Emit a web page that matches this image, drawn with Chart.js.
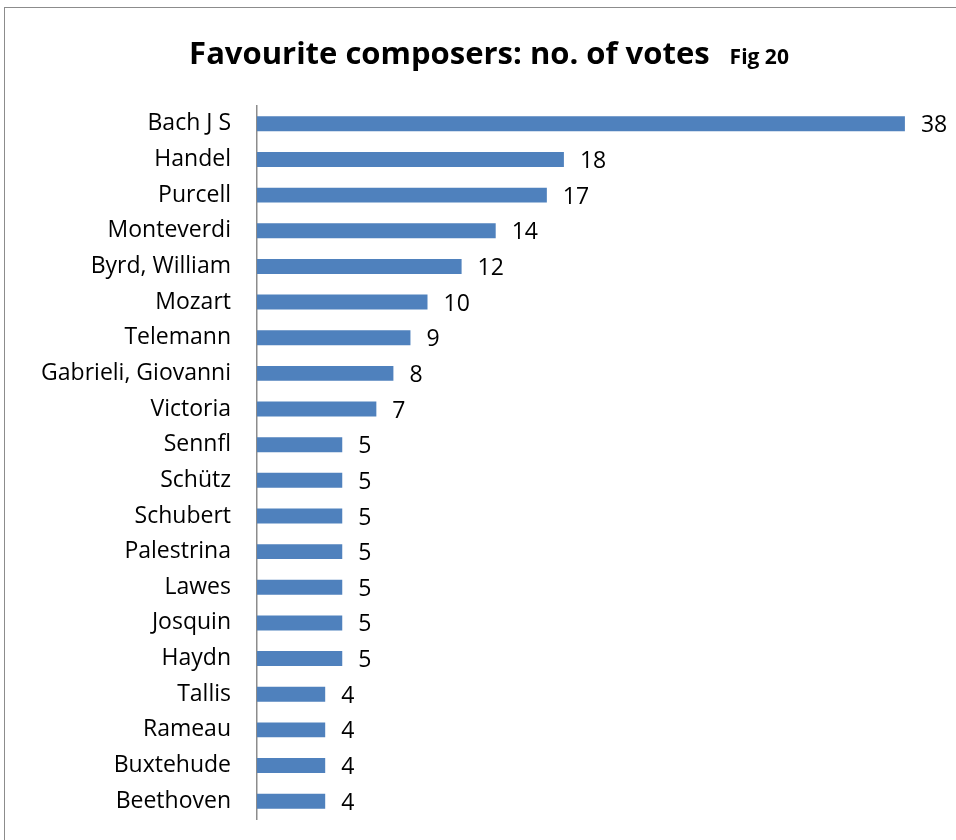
<!DOCTYPE html>
<html>
<head>
<meta charset="utf-8">
<script src="https://cdn.jsdelivr.net/npm/chart.js@4"></script>
<style>
    html, body { margin: 0; padding: 0; background: #fff; overflow: hidden; }
    #wrap { position: relative; width: 956px; height: 840px; }
    #frame {
        position: absolute; left: 4px; top: 7px;
        width: 1000px; height: 900px;
        border: 1.5px solid #8c8c8c; box-sizing: border-box;
    }
    canvas { position: absolute; left: 0; top: 0; }
</style>
</head>
<body>
<div id="wrap">
    <div id="frame"></div>
    <canvas id="chart" width="956" height="840"></canvas>
</div>
<script>
const composers = [
    "Bach J S", "Handel", "Purcell", "Monteverdi", "Byrd, William",
    "Mozart", "Telemann", "Gabrieli, Giovanni", "Victoria", "Sennfl",
    "Schütz", "Schubert", "Palestrina", "Lawes", "Josquin",
    "Haydn", "Tallis", "Rameau", "Buxtehude", "Beethoven"
];
const votes = [38, 18, 17, 14, 12, 10, 9, 8, 7, 5, 5, 5, 5, 5, 5, 5, 4, 4, 4, 4];
const titleText = "Favourite composers: no. of votes";
const figText = "Fig 20";

const FONT = "'Open Sans', sans-serif";

// title drawn by hand: the "Fig 20" part is smaller than the rest
const titlePlugin = {
    id: "twoPartTitle",
    afterDraw: chart => {
        const ctx = chart.ctx;
        ctx.save();
        ctx.fillStyle = "#000";
        ctx.textBaseline = "alphabetic";
        ctx.font = "bold 31px " + FONT;
        const w1 = ctx.measureText(titleText).width;
        ctx.font = "bold 21px " + FONT;
        const w2 = ctx.measureText(figText).width;
        const gap = 20;
        const start = 489 - (w1 + gap + w2) / 2;
        ctx.font = "bold 31px " + FONT;
        ctx.fillText(titleText, start, 64);
        ctx.font = "bold 21px " + FONT;
        ctx.fillText(figText, start + w1 + gap, 64);
        ctx.restore();
    }
};

const valueLabels = {
    id: "valueLabels",
    afterDatasetsDraw: chart => {
        const ctx = chart.ctx;
        const meta = chart.getDatasetMeta(0);
        ctx.save();
        ctx.font = "23px " + FONT;
        ctx.fillStyle = "#000";
        ctx.textAlign = "left";
        ctx.textBaseline = "middle";
        meta.data.forEach((bar, i) => {
            ctx.fillText(String(votes[i]), bar.x + 16, bar.y + 2);
        });
        ctx.restore();
    }
};

new Chart(document.getElementById("chart"), {
    type: "bar",
    data: {
        labels: composers,
        datasets: [{
            data: votes,
            backgroundColor: "#4F81BD",
            borderWidth: 0,
            barPercentage: 0.42,
            categoryPercentage: 1
        }]
    },
    options: {
        indexAxis: "y",
        responsive: false,
        animation: false,
        layout: {
            padding: { top: 106, bottom: 21, right: 17, left: 0 }
        },
        plugins: {
            legend: { display: false },
            title: { display: false },
            tooltip: { enabled: false }
        },
        scales: {
            x: {
                display: false,
                min: 0,
                max: 40
            },
            y: {
                afterFit: scale => {
                    scale.width = 257;
                    scale.paddingTop = 0;
                    scale.paddingBottom = 0;
                },
                grid: { drawOnChartArea: false, drawTicks: false },
                border: { display: true, color: "#8c8c8c", width: 1.5 },
                ticks: {
                    color: "#000",
                    padding: 26,
                    font: { family: FONT, size: 23 }
                }
            }
        }
    },
    plugins: [titlePlugin, valueLabels]
});
</script>
</body>
</html>
